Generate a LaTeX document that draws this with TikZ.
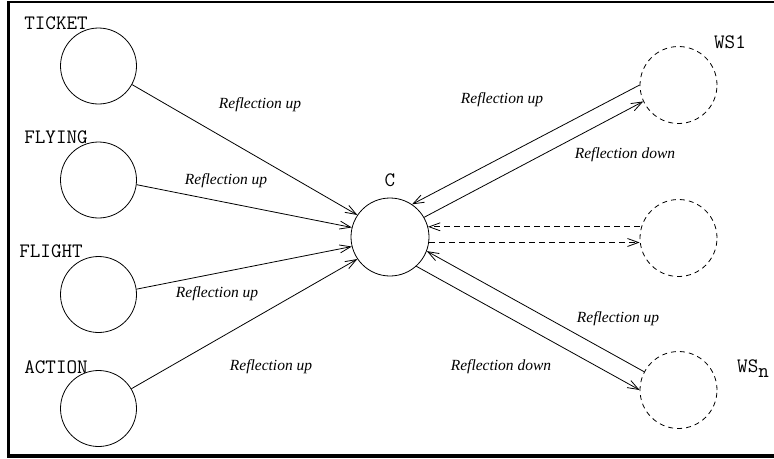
\documentclass[tikz,border=0pt]{standalone}
\usepackage{fontspec}
\setmainfont{Liberation Serif}
\usetikzlibrary{arrows.meta}
\begin{document}
\begin{tikzpicture}[x=1pt,y=-1pt,
  circ/.style={circle,draw,line width=0.8pt,minimum size=#1,inner sep=0pt},
  circ/.default=76pt,
  dcirc/.style={circ=#1,dash pattern=on 5pt off 4pt},
  dcirc/.default=77pt,
  mono/.style={font=\ttfamily\fontsize{20.5}{22}\selectfont,inner sep=0pt},
  elabel/.style={font=\itshape\fontsize{15.5}{18}\selectfont,inner sep=0pt},
  arr/.style={line width=0.8pt,-{Straight Barb[length=11pt,width=8pt,line width=0.8pt]}},
  darr/.style={arr,dash pattern=on 6pt off 4pt},
  frame/.style={line width=#1,line cap=rect}
]
\useasboundingbox (0,0) rectangle (774,458);
% frame
\draw[frame=2.5pt] (8.5,2.2) -- (776,2.2);
\draw[frame=3pt] (8.5,2.2) -- (8.5,455);
\draw[frame=4pt] (8.5,455.5) -- (776,455.5);

% left circles
\node[circ] (ticket) at (98.5,66) {};
\node[circ] (flying) at (98.5,180) {};
\node[circ] (flight) at (98.5,294.5) {};
\node[circ] (action) at (98.5,408.5) {};
% center
\node[circ=78pt] (c) at (390,237) {};
% right dashed circles
\node[dcirc] (ws1) at (678.5,85) {};
\node[dcirc] (wsm) at (678.5,238) {};
\node[dcirc] (wsn) at (678.5,390) {};

% node labels
\node[mono] (lticket) at (56,23) {TICKET};
\node[mono] (lflying) at (56,137) {FLYING};
\node[mono] (lflight) at (51,251) {FLIGHT};
\node[mono] (laction) at (56,367) {ACTION};
\node[mono] (lc) at (390,180) {C};
\node[mono] (lws1) at (730,42) {WS1};
\node[mono,anchor=west] (lwsn) at (737,369) {WS\raisebox{-5pt}{n}};

% connectors
\draw[arr] (ticket.-29) -- (c.146);
\draw[arr] (flying.-7) -- (c.166);
\draw[arr] (flight.8) -- (c.194);
\draw[arr] (action.31) -- (c.214);
\draw[arr] (ws1.180) -- (c.56);
\draw[arr] (c.30) -- (ws1.205);
\draw[darr] (c.15 -| wsm.west) -- (c.15);
\draw[darr] (c.-8) -- (c.-8 -| wsm.west);
\draw[arr] (wsn.152) -- (c.-21);
\draw[arr] (c.-48) -- (wsn.180);

% edge labels
\node[elabel] (e1) at (260,105) {Reflection up};
\node[elabel] (e2) at (226,181) {Reflection up};
\node[elabel] (e3) at (217,294) {Reflection up};
\node[elabel] (e4) at (271,367) {Reflection up};
\node[elabel] (e5) at (502,100) {Reflection up};
\node[elabel] (e6) at (625,155) {Reflection down};
\node[elabel] (e7) at (618,319) {Reflection up};
\node[elabel] (e8) at (501,367) {Reflection down};
\end{tikzpicture}
\end{document}
